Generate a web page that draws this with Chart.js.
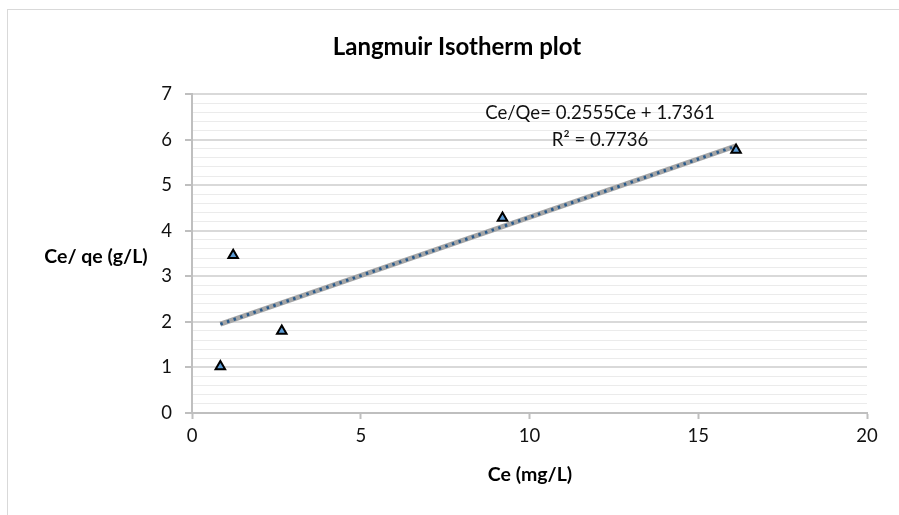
<!DOCTYPE html>
<html>
<head>
<meta charset="utf-8">
<script src="https://cdn.jsdelivr.net/npm/chart.js@4.4.1/dist/chart.umd.min.js"></script>
<style>
  html, body { margin: 0; padding: 0; background: #fff; }
  #wrap { position: relative; width: 899px; height: 515px; }
</style>
</head>
<body>
<div id="wrap"><canvas id="chart" width="899" height="515"></canvas></div>
<script>
// Langmuir isotherm: Ce vs Ce/qe with linear trendline

const ceValues   = [0.84, 1.22, 2.66, 9.2, 16.12];
const ceQeValues = [1.02, 3.46, 1.80, 4.28, 5.77];
const trendX     = [0.84, 16.12];
const trendY     = [1.95, 5.86];
const xTicks     = [0, 5, 10, 15, 20];
const yTicks     = [0, 1, 2, 3, 4, 5, 6, 7];

const FONT = 'Lato, "Liberation Sans", sans-serif';
const C = {
  text: "#111",
  axis: "#bfbfbf",
  major: "#d9d9d9",
  minor: "#ebebeb",
  marker: "#5b9bd5",
  trendGray: "#a6a6a6",
  trendDot: "#2a5b8c",
};

const isMajor = (v) => Math.abs(v - Math.round(v)) < 1e-6;

// Texts drawn at fixed spots, like the original sheet chart
const decorations = {
  id: "decorations",
  afterDraw(chart) {
    const ctx = chart.ctx;
    ctx.save();
    ctx.strokeStyle = "#d9d9d9";
    ctx.lineWidth = 1;
    ctx.strokeRect(7.5, 9.5, 1000, 1000);

    ctx.fillStyle = "#000";
    ctx.textAlign = "center";
    ctx.textBaseline = "middle";
    ctx.font = `bold 24px ${FONT}`;
    ctx.fillText("Langmuir Isotherm plot", 457, 47);

    ctx.font = `bold 19.5px ${FONT}`;
    ctx.fillText("Ce/ qe (g/L)", 96, 257);
    ctx.fillText("Ce (mg/L)", 530, 475);

    ctx.fillStyle = C.text;
    ctx.font = `18.6px ${FONT}`;
    ctx.fillText("Ce/Qe= 0.2555Ce + 1.7361", 600, 113);
    ctx.fillText("R² = 0.7736", 600, 140);
    ctx.restore();
  }
};

new Chart(document.getElementById("chart"), {
  type: "scatter",
  data: {
    datasets: [
      {
        label: "Ce/qe",
        data: ceValues.map((x, i) => ({ x, y: ceQeValues[i] })),
        pointStyle: "triangle",
        pointRadius: 5.5,
        pointBackgroundColor: C.marker,
        pointBorderColor: "#000",
        pointBorderWidth: 2,
        showLine: false,
        order: 1,
      },
      {
        label: "trend",
        type: "line",
        data: trendX.map((x, i) => ({ x, y: trendY[i] })),
        borderColor: C.trendGray,
        borderWidth: 5,
        pointRadius: 0,
        fill: false,
        order: 3,
      },
      {
        label: "trend dots",
        type: "line",
        data: trendX.map((x, i) => ({ x, y: trendY[i] })),
        borderColor: C.trendDot,
        borderWidth: 3,
        borderDash: [2.5, 4.5],
        pointRadius: 0,
        fill: false,
        order: 2,
      },
    ]
  },
  options: {
    responsive: false,
    animation: false,
    layout: { padding: { top: 94, right: 32, left: 0, bottom: 0 } },
    plugins: { legend: { display: false }, tooltip: { enabled: false }, title: { display: false } },
    scales: {
      x: {
        type: "linear",
        min: xTicks[0],
        max: xTicks[xTicks.length - 1],
        afterBuildTicks: (s) => { s.ticks = xTicks.map(v => ({ value: v })); },
        afterFit: (s) => { s.height = 102; },
        border: { color: C.axis, width: 2 },
        grid: { drawOnChartArea: false, drawTicks: true, tickLength: 6, tickColor: C.axis, tickWidth: 2 },
        ticks: { color: C.text, font: { family: FONT, size: 18.5 }, padding: 6, maxRotation: 0 },
      },
      y: {
        min: yTicks[0],
        max: yTicks[yTicks.length - 1],
        afterFit: (s) => { s.width = 192; },
        border: { color: C.axis, width: 2 },
        grid: {
          color: (c) => isMajor(c.tick.value) ? C.major : C.minor,
          lineWidth: (c) => isMajor(c.tick.value) ? 2 : 1,
          tickLength: 7,
          tickColor: (c) => isMajor(c.tick.value) ? C.axis : "rgba(0,0,0,0)",
          tickWidth: 2,
        },
        ticks: {
          stepSize: 0.2,
          autoSkip: false,
          color: C.text,
          font: { family: FONT, size: 18.5 },
          padding: 13,
          callback: (v) => isMajor(v) && yTicks.includes(Math.round(v)) ? String(Math.round(v)) : "",
        },
      },
    },
  },
  plugins: [decorations],
});
</script>
</body>
</html>
